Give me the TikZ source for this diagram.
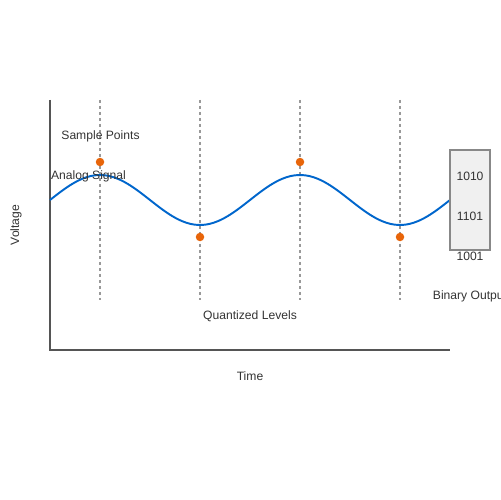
\documentclass[tikz,border=0pt]{standalone}
\usepackage{fontspec}
\setmainfont{Liberation Sans}
\usepackage{xcolor}
\usepackage{tikz}

\definecolor{axisgray}{HTML}{555555}
\definecolor{gridgray}{HTML}{999999}
\definecolor{signalblue}{HTML}{0066CC}
\definecolor{sampleorange}{HTML}{E8650A}
\definecolor{boxfill}{HTML}{F0F0F0}
\definecolor{boxline}{HTML}{888888}
\definecolor{labelgray}{HTML}{333333}

\tikzset{
  axis/.style={axisgray, line width=1.1pt},
  level/.style={gridgray, line width=0.8pt, dash pattern=on 0.06cm off 0.06cm},
  signal/.style={signalblue, line width=1.1pt},
  sample/.style={circle, fill=sampleorange, inner sep=0pt, minimum size=0.17cm},
  lbl/.style={text=labelgray, font=\fontsize{6.9pt}{8pt}\selectfont, inner sep=0pt}
}

\begin{document}
\begin{tikzpicture}[x=0.02cm, y=-0.02cm]
    \useasboundingbox (0,0) rectangle (500,500);
    % axes
    \coordinate (origin) at (50,350);
    \coordinate (ytop) at (50,100);
    \coordinate (xend) at (450,350);
    \draw[axis] (ytop) -- (origin) -- (xend);
    % sampling instants
    \foreach \t in {100,200,300,400}
      \draw[level] (\t,100) -- (\t,300);
    % analog signal
    \draw[signal] plot[domain=50:450, samples=101, smooth] (\x, {200-25*sin(1.8*(\x-50))});
    % samples
    \node[sample] (s1) at (100,162) {};
    \node[sample] (s2) at (200,237) {};
    \node[sample] (s3) at (300,162) {};
    \node[sample] (s4) at (400,237) {};
    % binary output
    \draw[boxline, fill=boxfill, line width=0.8pt] (450,150) rectangle (490,250);
    \node[lbl] (b1) at (470,176) {1010};
    \node[lbl] (b2) at (470,216) {1101};
    \node[lbl] (b3) at (470,256) {1001};
    % labels
    \node[lbl] (samplelbl) at (100.5,136) {Sample Points};
    \node[lbl] (analoglbl) at (88.5,176) {Analog Signal};
    \node[lbl] (quantlbl) at (250,316) {Quantized Levels};
    \node[lbl] (binlbl) at (470,296) {Binary Output};
    \node[lbl] (timelbl) at (250,376) {Time};
    \node[lbl, rotate=90] (voltlbl) at (16,225) {Voltage};
\end{tikzpicture}
\end{document}
